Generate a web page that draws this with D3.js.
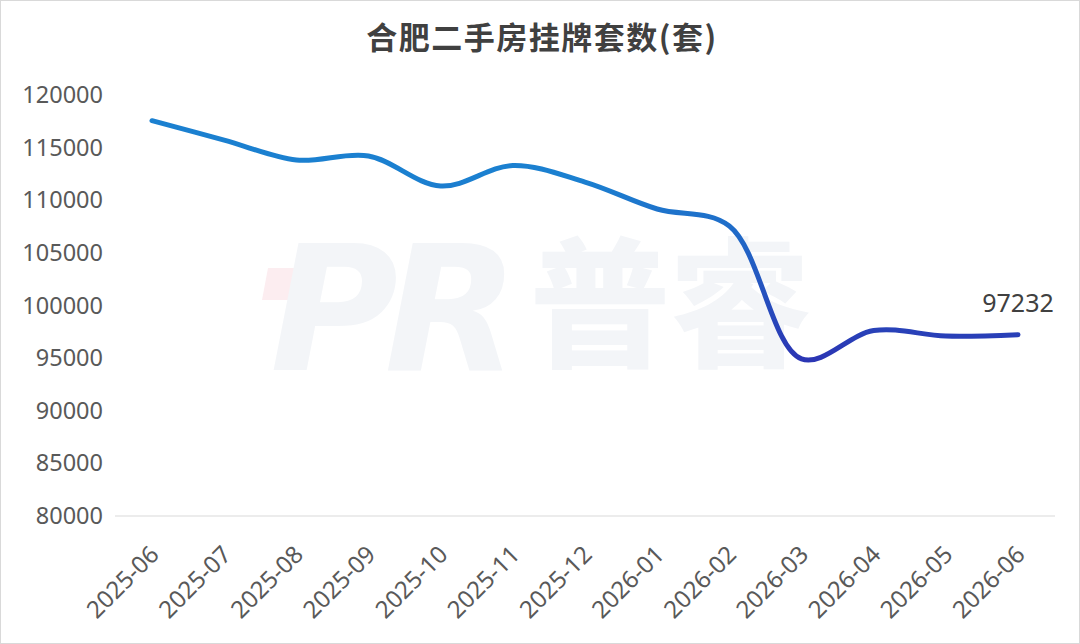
<!DOCTYPE html>
<html>
<head>
<meta charset="utf-8">
<script src="https://cdn.jsdelivr.net/npm/d3@7/dist/d3.min.js"></script>
<style>
  html, body { margin: 0; padding: 0; background: #fff; }
  svg { display: block; }
</style>
</head>
<body>
<svg id="chart"></svg>
<script>
// months on the category axis
const months = ["2025-06", "2025-07", "2025-08", "2025-09", "2025-10", "2025-11", "2025-12",
                "2026-01", "2026-02", "2026-03", "2026-04", "2026-05", "2026-06"];
// listings count (last one is labelled)
const listings = [117560, 115720, 113820, 114200, 111350, 113300, 111730,
                  109170, 107550, 94920, 97620, 97100, 97232];
const yTicks = [80000, 85000, 90000, 95000, 100000, 105000, 110000, 115000, 120000];
const title = "合肥二手房挂牌套数(套)";

const W = 1080, H = 644;
const svg = d3.select("#chart").attr("width", W).attr("height", H);

// frame
svg.append("rect")
    .attr("x", 0.5).attr("y", 0.5)
    .attr("width", W - 1).attr("height", H - 1)
    .attr("fill", "#fff")
    .attr("stroke", "#d9d9d9");

// watermark
const wm = svg.append("g");
wm.append("path")
    .attr("d", "M268,268 L300,268 L294,300 L262,300 Z")
    .attr("fill", "#fcedf0");
wm.append("text")
    .attr("x", 270).attr("y", 370)
    .attr("font-family", "DejaVu Sans, sans-serif")
    .attr("font-weight", "bold")
    .attr("font-style", "italic")
    .attr("font-size", 175)
    .attr("letter-spacing", -14)
    .attr("fill", "#f3f5f8")
    .text("PR");
wm.append("text")
    .attr("x", 530).attr("y", 356)
    .attr("font-family", "Noto Sans CJK SC, sans-serif")
    .attr("font-weight", "900")
    .attr("font-size", 140)
    .attr("fill", "#f3f5f8")
    .text("普睿");

const x = d3.scalePoint().domain(months).range([152, 1018]);
const y = d3.scaleLinear().domain([80000, 120000]).range([516, 95]);

// baseline gridline
svg.append("line")
    .attr("x1", 115).attr("x2", 1055)
    .attr("y1", y(80000)).attr("y2", y(80000))
    .attr("stroke", "#d9d9d9")
    .attr("stroke-width", 1.2);

// y axis labels
const yAxis = svg.append("g")
    .attr("transform", "translate(103,0)")
    .call(d3.axisLeft(y).tickValues(yTicks).tickSize(0).tickPadding(0).tickFormat(d3.format("d")));
yAxis.select(".domain").remove();
yAxis.selectAll("text")
    .attr("font-family", "Noto Sans, sans-serif")
    .attr("font-size", 23.5)
    .attr("fill", "#595959");

// x axis labels, rotated
const xAxis = svg.append("g")
    .attr("transform", `translate(0,${y(80000)})`)
    .call(d3.axisBottom(x).tickSize(0));
xAxis.select(".domain").remove();
xAxis.selectAll("text")
    .attr("font-family", "Noto Sans, sans-serif")
    .attr("font-size", 24)
    .attr("fill", "#595959")
    .attr("text-anchor", "end")
    .attr("dy", 0)
    .attr("y", 0)
    .attr("transform", "translate(8,40) rotate(-45)");

// line colour goes from light blue at the top to indigo at the bottom
const defs = svg.append("defs");
const grad = defs.append("linearGradient")
    .attr("id", "lineGrad")
    .attr("gradientUnits", "userSpaceOnUse")
    .attr("x1", 0).attr("x2", 0)
    .attr("y1", y(112000)).attr("y2", y(95000));
grad.append("stop").attr("offset", "0%").attr("stop-color", "#1b80d0");
grad.append("stop").attr("offset", "100%").attr("stop-color", "#2b36b4");

const line = d3.line()
    .x((d, i) => x(months[i]))
    .y(d => y(d))
    .curve(d3.curveCatmullRom.alpha(0.5));

svg.append("path")
    .datum(listings)
    .attr("d", line)
    .attr("fill", "none")
    .attr("stroke", "url(#lineGrad)")
    .attr("stroke-width", 5)
    .attr("stroke-linecap", "round")
    .attr("stroke-linejoin", "round");

// label on last point
const last = listings.length - 1;
svg.append("text")
    .attr("x", x(months[last]))
    .attr("y", y(listings[last]) - 23)
    .attr("text-anchor", "middle")
    .attr("font-family", "Noto Sans, sans-serif")
    .attr("font-size", 25)
    .attr("fill", "#404040")
    .text(listings[last]);

// title
svg.append("text")
    .attr("x", 542).attr("y", 49)
    .attr("text-anchor", "middle")
    .attr("font-family", "Noto Sans CJK SC, sans-serif")
    .attr("font-weight", "bold")
    .attr("font-size", 31)
    .attr("letter-spacing", 1.5)
    .attr("fill", "#404040")
    .text(title);
</script>
</body>
</html>
